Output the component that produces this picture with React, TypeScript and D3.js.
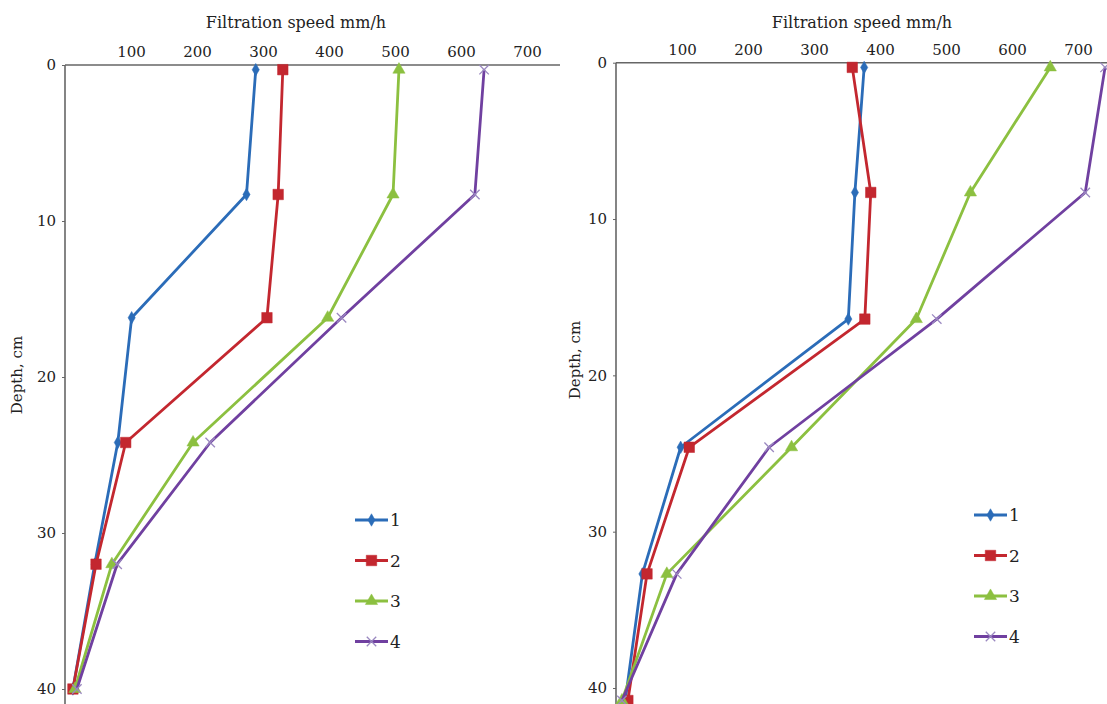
import React, { useEffect, useRef } from 'react';
import * as d3 from 'd3';

// values (filtration speed, mm/h)
const seriesNames = ['1', '2', '3', '4'];
const speedTicks = [100, 200, 300, 400, 500, 600, 700];
const depthTicks = [0, 10, 20, 30, 40];

const leftDepths = [0.3, 8.3, 16.2, 24.2, 32, 40];
const leftS1 = [289, 275, 101, 80, 45, 12];
const leftS2 = [330, 323, 306, 92, 47, 12];
const leftS3 = [506, 497, 398, 194, 71, 15];
const leftS4 = [635, 621, 419, 220, 79, 18];

const rightDepths = [0.3, 8.3, 16.4, 24.6, 32.7, 40.8];
const rightS1 = [376, 362, 352, 98, 40, 14];
const rightS2 = [358, 386, 377, 111, 47, 18];
const rightS3 = [658, 537, 455, 266, 77, 9];
const rightS4 = [741, 711, 486, 232, 92, 9];

const colors = ['#2b6cb8', '#c3272f', '#8cc040', '#7040a0'];
const markerColors = ['#2b6cb8', '#c3272f', '#8cc040', '#9a88c0'];
const symbols = [d3.symbolDiamond, d3.symbolSquare, d3.symbolTriangle, d3.symbolX];
const symbolSizes = [45, 110, 65, 60];

const FONT = "'DejaVu Serif', 'Liberation Serif', 'Times New Roman', serif";

function drawPanel(svg, opts) {
  const { x0, x700, axisEnd, y0, y40, depths, values, titleX, labelX, labelY, legendX, legendY } = opts;

  const x = d3.scaleLinear().domain([0, 700]).range([x0, x700]);
  const y = d3.scaleLinear().domain([0, 40]).range([y0, y40]);

  const g = svg.append('g');

  // title
  g.append('text')
    .attr('x', titleX)
    .attr('y', 28)
    .attr('text-anchor', 'middle')
    .attr('font-family', FONT)
    .attr('font-size', 16)
    .attr('fill', '#222')
    .text('Filtration speed mm/h');

  // top axis
  const xAxis = g.append('g')
    .attr('transform', `translate(0,${y0})`)
    .call(d3.axisTop(x).tickValues(speedTicks).tickSize(0).tickPadding(8));
  xAxis.select('.domain').remove();
  xAxis.attr('font-family', FONT);
  xAxis.selectAll('text')
    .attr('font-size', 15)
    .attr('fill', '#222');

  // left axis
  const yAxis = g.append('g')
    .attr('transform', `translate(${x0},0)`)
    .call(d3.axisLeft(y).tickValues(depthTicks).tickSize(3).tickPadding(6));
  yAxis.select('.domain').remove();
  yAxis.attr('font-family', FONT);
  yAxis.selectAll('line').attr('stroke', '#666');
  yAxis.selectAll('text')
    .attr('font-size', 15)
    .attr('fill', '#222');

  g.append('line')
    .attr('x1', x0).attr('x2', axisEnd)
    .attr('y1', y0).attr('y2', y0)
    .attr('stroke', '#666').attr('stroke-width', 1.6);
  g.append('line')
    .attr('x1', x0).attr('x2', x0)
    .attr('y1', y0).attr('y2', 710)
    .attr('stroke', '#666').attr('stroke-width', 1.6);

  // y label
  g.append('text')
    .attr('transform', `translate(${labelX},${labelY}) rotate(-90)`)
    .attr('text-anchor', 'middle')
    .attr('font-family', FONT)
    .attr('font-size', 15)
    .attr('fill', '#222')
    .text('Depth, cm');

  const line = d3.line()
    .x(d => x(d[0]))
    .y(d => y(d[1]));

  values.forEach((vals, i) => {
    const pts = vals.map((v, j) => [v, depths[j]]);
    g.append('path')
      .datum(pts)
      .attr('fill', 'none')
      .attr('stroke', colors[i])
      .attr('stroke-width', 2.8)
      .attr('stroke-linejoin', 'round')
      .attr('d', line);

    g.selectAll(null)
      .data(pts)
      .enter()
      .append('path')
      .attr('transform', d => `translate(${x(d[0])},${y(d[1])})`)
      .attr('d', d3.symbol(symbols[i], symbolSizes[i]))
      .attr('fill', i === 3 ? 'none' : markerColors[i])
      .attr('stroke', markerColors[i])
      .attr('stroke-width', i === 3 ? 1.3 : 0.5);
  });

  // legend
  seriesNames.forEach((name, i) => {
    const ly = legendY + i * 40.5;
    g.append('line')
      .attr('x1', legendX).attr('x2', legendX + 33)
      .attr('y1', ly).attr('y2', ly)
      .attr('stroke', colors[i]).attr('stroke-width', 2.8);
    g.append('path')
      .attr('transform', `translate(${legendX + 16.5},${ly})`)
      .attr('d', d3.symbol(symbols[i], symbolSizes[i]))
      .attr('fill', i === 3 ? 'none' : markerColors[i])
      .attr('stroke', markerColors[i])
      .attr('stroke-width', i === 3 ? 1.3 : 0.5);
    g.append('text')
      .attr('x', legendX + 35)
      .attr('y', ly + 6)
      .attr('font-family', FONT)
      .attr('font-size', 17)
      .attr('fill', '#222')
      .text(name);
  });
}

const App = () => {
  const ref = useRef(null);

  useEffect(() => {
    const svg = d3.select(ref.current);
    svg.selectAll('*').remove();

    drawPanel(svg, {
      x0: 65, x700: 527, axisEnd: 560, y0: 65, y40: 689,
      depths: leftDepths,
      values: [leftS1, leftS2, leftS3, leftS4],
      titleX: 296, labelX: 22, labelY: 375,
      legendX: 355, legendY: 520,
    });

    drawPanel(svg, {
      x0: 616, x700: 1078, axisEnd: 1107, y0: 62.7, y40: 688,
      depths: rightDepths,
      values: [rightS1, rightS2, rightS3, rightS4],
      titleX: 862, labelX: 580, labelY: 360,
      legendX: 974, legendY: 515,
    });
  }, []);

  return (
    <svg
      ref={ref}
      width={1107}
      height={704}
      style={{ position: 'absolute', left: 0, top: 0, background: '#fff' }}
    />
  );
};

export default App;
